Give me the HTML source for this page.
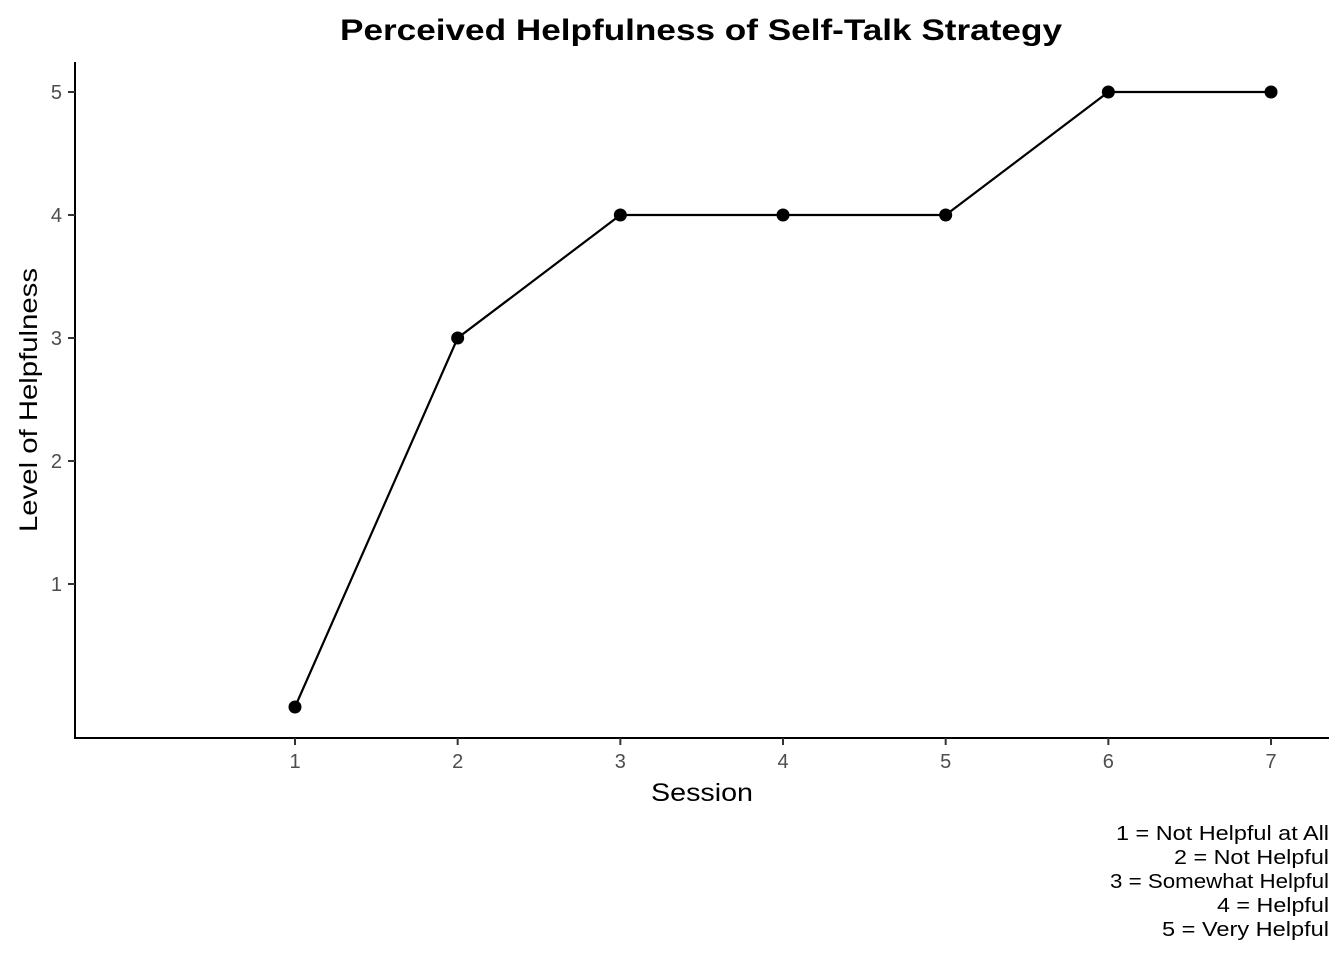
<!DOCTYPE html>
<html><head><meta charset="utf-8"><style>
body{margin:0;background:#fff;}
svg{display:block;font-family:"Liberation Sans",Arial,sans-serif;}
</style></head><body>
<svg id="chart" width="1344" height="960">
<text x="701" y="40" text-anchor="middle" font-size="30" font-weight="bold" textLength="722" lengthAdjust="spacingAndGlyphs">Perceived Helpfulness of Self-Talk Strategy</text>
<line x1="75" y1="62" x2="75" y2="739" stroke="#000" stroke-width="2"/>
<line x1="74" y1="738" x2="1329" y2="738" stroke="#000" stroke-width="2"/>
<g id="yticks"></g><g id="xticks"></g>
<text x="702" y="801" text-anchor="middle" font-size="25" textLength="102" lengthAdjust="spacingAndGlyphs">Session</text>
<text transform="translate(37,400) rotate(-90)" text-anchor="middle" font-size="25" textLength="264" lengthAdjust="spacingAndGlyphs">Level of Helpfulness</text>
<g id="series"></g>
<g font-size="20" text-anchor="end">
<text x="1329" y="840" textLength="213" lengthAdjust="spacingAndGlyphs">1 = Not Helpful at All</text>
<text x="1329" y="864" textLength="155" lengthAdjust="spacingAndGlyphs">2 = Not Helpful</text>
<text x="1329" y="888" textLength="219" lengthAdjust="spacingAndGlyphs">3 = Somewhat Helpful</text>
<text x="1329" y="912" textLength="112" lengthAdjust="spacingAndGlyphs">4 = Helpful</text>
<text x="1329" y="936" textLength="167" lengthAdjust="spacingAndGlyphs">5 = Very Helpful</text>
</g>
</svg>
<script>
const sessions=[1,2,3,4,5,6,7];
const helpfulness=[0,3,4,4,4,5,5];
const yTickValues=[1,2,3,4,5];
const xTickValues=[1,2,3,4,5,6,7];
const NS="http://www.w3.org/2000/svg";
function xs(v){return 295+(v-1)*162.67;}
function ys(v){return 707-v*123;}
function mk(t,a,p){const e=document.createElementNS(NS,t);for(const k in a)e.setAttribute(k,a[k]);p.appendChild(e);return e;}
const yt=document.getElementById('yticks'),xt=document.getElementById('xticks'),sr=document.getElementById('series');
yTickValues.forEach(v=>{
 const l=mk('line',{x1:68,x2:75,y1:ys(v),y2:ys(v),stroke:'#333','stroke-width':2},yt);
 
 
 const t=mk('text',{x:62,y:ys(v)+7,'text-anchor':'end','font-size':20,fill:'#4d4d4d'},yt);t.textContent=v;
 
 
});
xTickValues.forEach(v=>{
 const l=mk('line',{x1:xs(v),x2:xs(v),y1:738,y2:745,stroke:'#333','stroke-width':2},xt);
 
 
 const t=mk('text',{x:xs(v),y:768,'text-anchor':'middle','font-size':20,fill:'#4d4d4d'},xt);t.textContent=v;
 
 
});
const pts=sessions.map((s,i)=>xs(s)+','+ys(helpfulness[i])).join(' ');
const pl=mk('polyline',{points:pts,fill:'none',stroke:'#000','stroke-width':2.2},sr);


sessions.forEach((s,i)=>{
 const c=mk('circle',{cx:xs(s),cy:ys(helpfulness[i]),r:6.5,fill:'#000'},sr);
 
 
});
</script>
</body></html>
